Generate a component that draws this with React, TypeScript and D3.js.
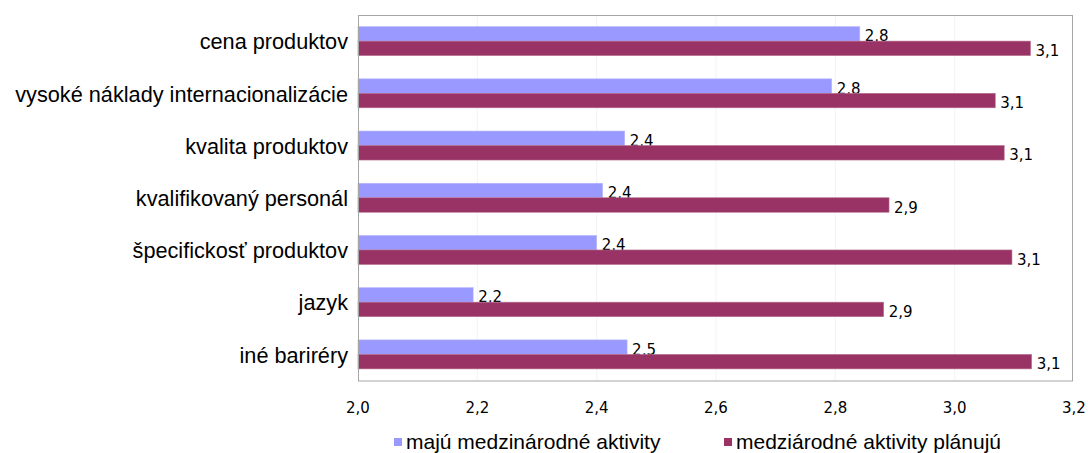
import * as d3 from 'd3';
import { useEffect, useRef } from 'react';

const categories = [
  'cena produktov',
  'vysoké náklady internacionalizácie',
  'kvalita produktov',
  'kvalifikovaný personál',
  'špecifickosť produktov',
  'jazyk',
  'iné bariréry',
];
const seriesNames = ['majú medzinárodné aktivity', 'medziárodné aktivity plánujú'];
const active = [2.841, 2.794, 2.447, 2.41, 2.4, 2.193, 2.451];
const planning = [3.127, 3.068, 3.083, 2.89, 3.096, 2.881, 3.129];
const ticks = [2.0, 2.2, 2.4, 2.6, 2.8, 3.0, 3.2];

const colors = ['#9999ff', '#993366'];
const fmt = (v: number) => d3.format('.1f')(v).replace('.', ',');

export default function App() {
  const svgRef = useRef<SVGSVGElement>(null);

  useEffect(() => {
    const svg = d3.select(svgRef.current);
    svg.selectAll('*').remove();

    const left = 358;
    const top = 15;
    const bottom = 380.5;

    const x = d3.scaleLinear().domain([2.0, 3.2]).range([left, 1074]);
    const y = d3.scaleBand<string>().domain(categories).range([top, bottom]);
    const barH = 14.5;

    // faint vertical grid
    svg.append('g')
      .selectAll('line')
      .data(ticks.slice(1, -1))
      .join('line')
      .attr('x1', d => x(d)).attr('x2', d => x(d))
      .attr('y1', top).attr('y2', bottom)
      .attr('stroke', '#f3f3f3');

    const series = [active, planning];
    series.forEach((vals, si) => {
      const g = svg.append('g');
      g.selectAll('rect')
        .data(vals)
        .join('rect')
        .attr('x', left)
        .attr('y', (_, i) => y(categories[i])! + y.bandwidth() / 2 - barH + si * barH)
        .attr('width', d => x(d) - left)
        .attr('height', barH)
        .attr('fill', colors[si])
        .attr('stroke', si === 0 ? '#b8b8ff' : '#b8708f')
        .attr('stroke-width', 0.6);

      g.selectAll('text')
        .data(vals)
        .join('text')
        .attr('x', d => x(d) + 5)
        .attr('y', (_, i) => y(categories[i])! + y.bandwidth() / 2 - barH / 2 + si * barH + 7.5)
        .attr('font-family', 'DejaVu Sans, sans-serif')
        .attr('font-size', 15)
        .attr('fill', '#000')
        .text(d => fmt(d));
    });

    // plot frame
    svg.append('rect')
      .attr('x', left + 0.5).attr('y', top + 0.5)
      .attr('width', x(3.2) - 2 - left).attr('height', bottom - top)
      .attr('fill', 'none')
      .attr('stroke', '#a6a6a6');

    // category labels
    svg.append('g')
      .selectAll('text')
      .data(categories)
      .join('text')
      .attr('x', left - 10)
      .attr('y', d => y(d)! + y.bandwidth() / 2 + 8.3)
      .attr('text-anchor', 'end')
      .attr('font-family', 'Liberation Sans, Arial, sans-serif')
      .attr('font-size', 21.7)
      .attr('fill', '#000')
      .text(d => d);

    // x tick labels
    svg.append('g')
      .selectAll('text')
      .data(ticks)
      .join('text')
      .attr('x', d => x(d))
      .attr('y', 413)
      .attr('text-anchor', 'middle')
      .attr('font-family', 'DejaVu Sans, sans-serif')
      .attr('font-size', 15)
      .attr('fill', '#000')
      .text(d => fmt(d));

    // legend
    const legendX = [394, 724];
    seriesNames.forEach((name, i) => {
      svg.append('rect')
        .attr('x', legendX[i]).attr('y', 438)
        .attr('width', 8).attr('height', 8)
        .attr('fill', colors[i]);
      svg.append('text')
        .attr('x', legendX[i] + 12)
        .attr('y', 449)
        .attr('font-family', 'Liberation Sans, Arial, sans-serif')
        .attr('font-size', 21)
        .attr('fill', '#000')
        .text(name);
    });
  }, []);

  return (
    <svg
      ref={svgRef}
      width={1088}
      height={453}
      style={{ position: 'absolute', left: 0, top: 0, background: '#fff' }}
    />
  );
}
